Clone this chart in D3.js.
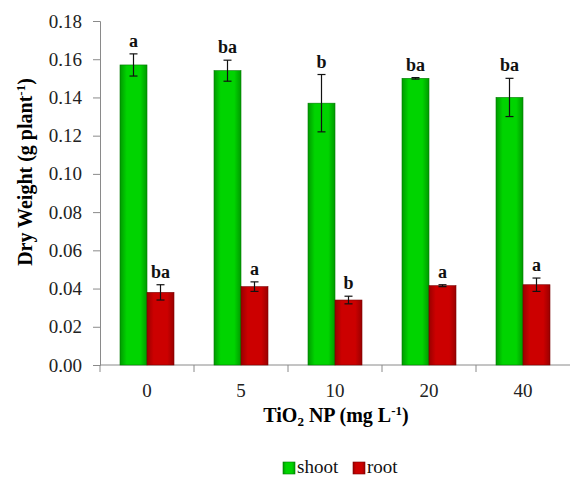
<!DOCTYPE html>
<html>
<head>
<meta charset="utf-8">
<script src="https://cdn.jsdelivr.net/npm/d3@7"></script>
<style>
  body { margin: 0; background: #fff; }
</style>
</head>
<body>
<div id="chart-area"></div>
<script>
let doses = ["0", "5", "10", "20", "40"]
let shoot = [0.157, 0.154, 0.137, 0.150, 0.140]
let shootErr = [0.0058, 0.0055, 0.0150, 0.0004, 0.0100]
let shootLetters = ["a", "ba", "b", "ba", "ba"]
let root = [0.038, 0.041, 0.034, 0.0415, 0.042]
let rootErr = [0.004, 0.0025, 0.002, 0.0005, 0.0035]
let rootLetters = ["ba", "a", "b", "a", "a"]
let yTicks = [0, 0.02, 0.04, 0.06, 0.08, 0.10, 0.12, 0.14, 0.16, 0.18]

let serif = "Liberation Serif, Times New Roman, Times, DejaVu Serif, serif"

let margin = { top: 21, right: 0, bottom: 112, left: 100 }
let width = 570, height = 477
let canvasWidth = width - margin.left - margin.right
let canvasHeight = height - margin.top - margin.bottom

let svg = d3.select("#chart-area").append("svg")
  .attr("width", width)
  .attr("height", height)
  .attr("font-family", serif)

let defs = svg.append("defs")
const grad = (id, edge, mid) => {
  let g = defs.append("linearGradient").attr("id", id)
    .attr("x1", "0%").attr("x2", "100%").attr("y1", "0%").attr("y2", "0%")
  g.append("stop").attr("offset", "0%").attr("stop-color", edge)
  g.append("stop").attr("offset", "25%").attr("stop-color", mid)
  g.append("stop").attr("offset", "75%").attr("stop-color", mid)
  g.append("stop").attr("offset", "100%").attr("stop-color", edge)
}
grad("gShoot", "#009a00", "#00d400")
grad("gRoot", "#9a0000", "#cc0000")

let g = svg.append("g")
  .attr("transform", "translate(" + margin.left + "," + margin.top + ")")

let x = d3.scaleBand()
  .domain(doses)
  .range([0, canvasWidth])

let y = d3.scaleLinear()
  .domain([0, 0.18])
  .range([canvasHeight, 0])

let barW = 27

// axes
let yAxis = g.append("g")
  .call(d3.axisLeft(y).tickValues(yTicks).tickFormat(d3.format(".2f")).tickSize(7).tickPadding(11))
yAxis.attr("font-family", serif)
yAxis.selectAll("text").style("font-size", "19px").attr("fill", "#222")
yAxis.selectAll("line, path").attr("stroke", "#8a8a8a")

let xAxis = g.append("g")
  .attr("transform", "translate(0," + canvasHeight + ")")
  .call(d3.axisBottom(x).tickSize(0).tickPadding(19))
xAxis.attr("font-family", serif)
xAxis.selectAll("text").style("font-size", "19px").attr("fill", "#222")
xAxis.selectAll("path").attr("stroke", "#8a8a8a").attr("d", "M0,0H" + canvasWidth)
// tick marks between groups
xAxis.selectAll(".sep")
  .data(d3.range(doses.length))
  .enter().append("line")
    .attr("x1", (i) => i * x.step())
    .attr("x2", (i) => i * x.step())
    .attr("y1", 0).attr("y2", 7)
    .attr("stroke", "#8a8a8a")

const series = [
  { vals: shoot, err: shootErr, letters: shootLetters, fill: "url(#gShoot)", stroke: "#007a00", off: -barW },
  { vals: root, err: rootErr, letters: rootLetters, fill: "url(#gRoot)", stroke: "#7a0000", off: 0 }
]

series.forEach(s => {
  let grp = g.append("g")
  doses.forEach((d, i) => {
    let cx = x(d) + x.bandwidth() / 2 + s.off
    grp.append("rect")
      .attr("x", cx).attr("y", y(s.vals[i]))
      .attr("width", barW).attr("height", canvasHeight - y(s.vals[i]))
      .attr("fill", s.fill).attr("stroke", s.stroke).attr("stroke-width", 0.6)
    let mx = cx + barW / 2
    let top = y(s.vals[i] + s.err[i]), bot = y(s.vals[i] - s.err[i])
    grp.append("line").attr("x1", mx).attr("x2", mx).attr("y1", top).attr("y2", bot)
      .attr("stroke", "#111").attr("stroke-width", 1.2)
    grp.append("line").attr("x1", mx - 4).attr("x2", mx + 4).attr("y1", top).attr("y2", top)
      .attr("stroke", "#111").attr("stroke-width", 1.2)
    grp.append("line").attr("x1", mx - 4).attr("x2", mx + 4).attr("y1", bot).attr("y2", bot)
      .attr("stroke", "#111").attr("stroke-width", 1.2)
    grp.append("text")
      .attr("x", mx).attr("y", top - 7)
      .attr("text-anchor", "middle")
      .style("font-size", "18px").style("font-weight", "bold")
      .attr("fill", "#111")
      .text(s.letters[i])
  })
})

// y label
let yl = svg.append("text")
  .attr("transform", "translate(32,172) rotate(-90)")
  .attr("text-anchor", "middle")
  .style("font-size", "20px").style("font-weight", "bold")
yl.append("tspan").text("Dry Weight (g plant")
yl.append("tspan").attr("dy", -7).style("font-size", "13px").text("-1")
yl.append("tspan").attr("dy", 7).text(")")

// x label
let xl = svg.append("text")
  .attr("x", 336).attr("y", 422)
  .attr("text-anchor", "middle")
  .style("font-size", "20px").style("font-weight", "bold")
xl.append("tspan").text("TiO")
xl.append("tspan").attr("dy", 4).style("font-size", "13px").text("2")
xl.append("tspan").attr("dy", -4).text(" NP (mg  L")
xl.append("tspan").attr("dy", -7).style("font-size", "13px").text("-1")
xl.append("tspan").attr("dy", 7).text(")")

// legend
let legend = svg.append("g").attr("transform", "translate(283,462)")
let items = [["shoot", "url(#gShoot)", "#007a00", 0], ["root", "url(#gRoot)", "#7a0000", 70]]
items.forEach(it => {
  legend.append("rect").attr("x", it[3]).attr("y", 0).attr("width", 12).attr("height", 12)
    .attr("fill", it[1]).attr("stroke", it[2]).attr("stroke-width", 0.6)
  legend.append("text").attr("x", it[3] + 14).attr("y", 11)
    .style("font-size", "19px").attr("fill", "#111").text(it[0])
})
</script>
</body>
</html>
